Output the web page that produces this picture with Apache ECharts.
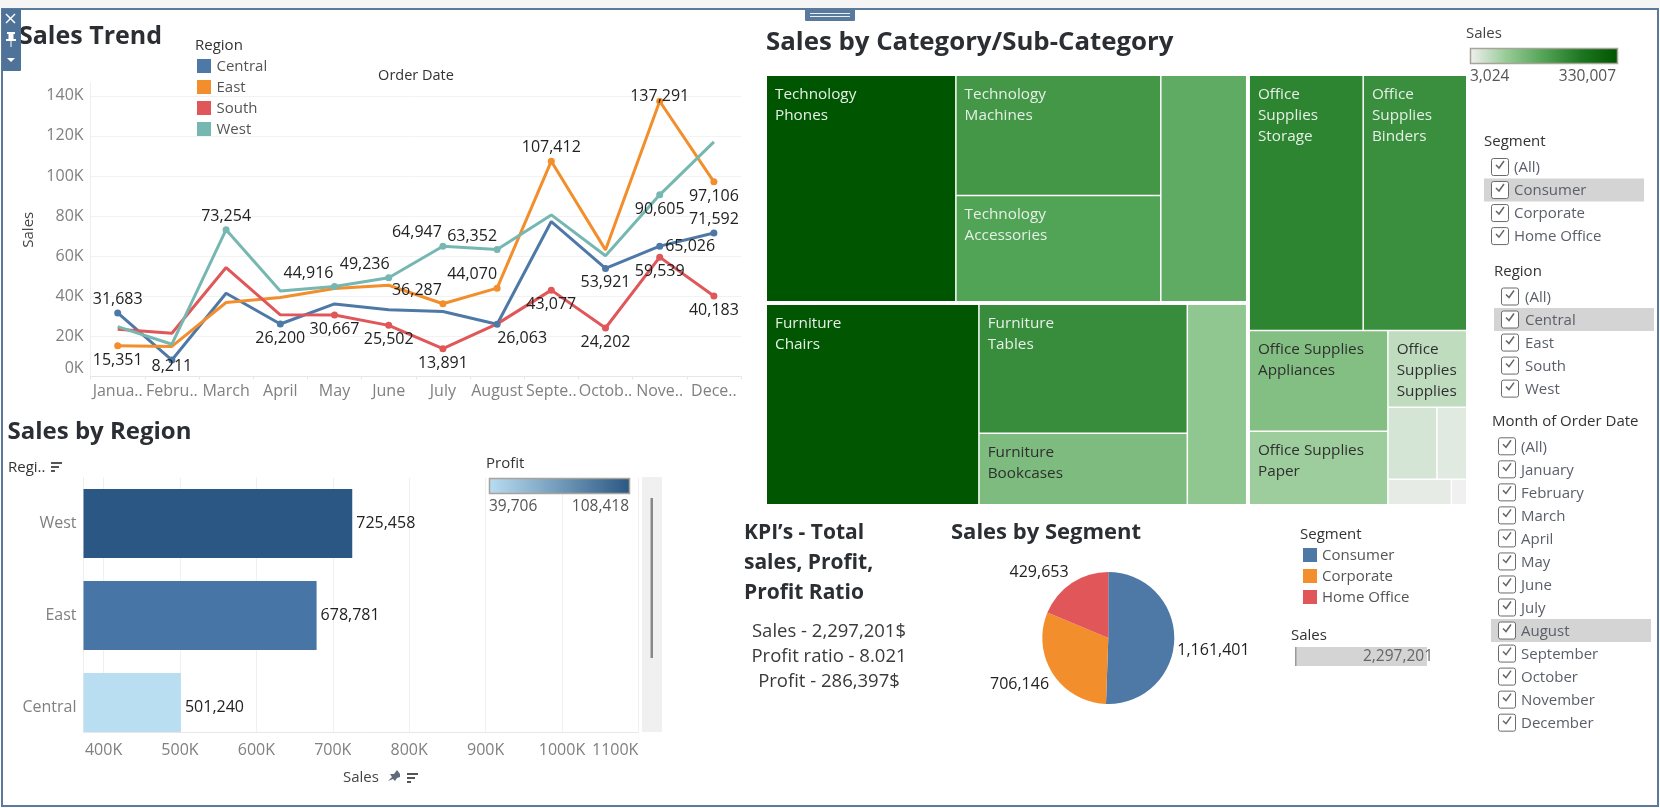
<!DOCTYPE html>
<html><head><meta charset="utf-8">
<style>html,body{margin:0;padding:0;background:#fff}#c{width:1660px;height:808px}</style>
<script src="https://cdn.jsdelivr.net/npm/echarts@6/dist/echarts.min.js"></script>
</head><body><div id="c"></div>
<script>
const months = ['Janua..','Febru..','March','April','May','June','July','August','Septe..','Octob..','Nove..','Dece..'];
const central = [31683,8211,41550,26200,36200,33240,32400,26063,77300,53921,65026,71592];
const east = [15351,15000,36900,39400,43900,45500,36287,44070,107412,63150,137291,97106];
const south = [23600,21600,54350,30750,30667,25502,13891,26260,43077,24202,59539,40183];
const west = [24900,16100,73254,42700,44916,49236,64947,63352,80600,60200,90605,117000];
const regionNames = ['Central','East','West'];
const regionSales = [501240,678781,725458];
const segmentNames = ['Consumer','Corporate','Home Office'];
const segmentSales = [1161401,706146,429653];
const techNames = ['Phones','Machines','Accessories','Copiers'];
const techSales = [330007,189239,167380,149528];
const furnNames = ['Chairs','Tables','Bookcases','Furnishings'];
const furnSales = [328449,206966,114880,91705];
const officeNames = ['Storage','Binders','Appliances','Paper','Supplies','Art','Envelopes','Labels','Fasteners'];
const officeSales = [223844,203413,107532,78479,46674,27119,16476,12486,3024];
const lineTicks = [0,20000,40000,60000,80000,100000,120000,140000];
const barTicks = [400000,500000,600000,700000,800000,900000,1000000,1100000];
const segmentFilter = ['(All)','Consumer','Corporate','Home Office'];
const regionFilter = ['(All)','Central','East','South','West'];
const monthFilter = ['(All)','January','February','March','April','May','June','July','August','September','October','November','December'];

const FONT = '"Open Sans","Noto Sans",sans-serif';
const BLUE='#4e79a7', ORANGE='#f28e2b', RED='#e15759', TEAL='#76b7b2';
const fmt = v => v.toLocaleString('en-US');

// label placement: index -> [position, dx, dy]
const placeCentral = {0:['top',0,0],1:['bottom',0,-8],3:['bottom',0,0],7:['bottom',25,0],9:['bottom',0,0],10:['right',0,0],11:['top',0,0]};
const placeEast = {0:['bottom',0,0],6:['top',-26,0],7:['top',-25,0],8:['top',0,0],10:['top',0,9],11:['bottom',0,0]};
const placeSouth = {4:['bottom',0,0],5:['bottom',0,0],6:['bottom',0,0],8:['bottom',0,0],9:['bottom',0,0],10:['bottom',0,0],11:['bottom',0,0]};
const placeWest = {2:['top',0,0],4:['top',-26,0],5:['top',-24,0],6:['top',-26,0],7:['top',-25,0],10:['bottom',0,0]};
const pieLabelShift = [[-6,11],[5,10],[5,-9]];

function lineSeries(name, vals, color, place){
  return {type:'line', name, xAxisIndex:0, yAxisIndex:0, lineStyle:{width:3,color}, itemStyle:{color},
    symbol:'none', animation:false, z:3,
    data: vals.map((v,i)=>{
      const p = place[i];
      if(!p) return {value:v};
      return {value:v, symbol:'circle', symbolSize:7,
        label:{show:true, position:p[0], distance:p[0]==='bottom'?3:2, offset:[p[1],p[2]], formatter:fmt(v),
               color:'#222', fontFamily:FONT, fontSize:16}};
    })};
}

const g = [];
function T(x,y,text,size,color,weight,align,z){
  g.push({type:'text',x,y:y+1,z:z||20,silent:true,style:{text,fill:color||'#333',
    font:(weight||'normal')+' '+size+'px '+FONT,align:align||'left',verticalAlign:'middle'}});
}
function R(x,y,w,h,fill,z,extra){
  g.push({type:'rect',shape:{x,y,width:w,height:h,r:(extra&&extra.r)||0},z:z||10,silent:true,
    style:Object.assign({fill},extra&&extra.style)});
}
function L(pts,stroke,width,z){
  g.push({type:'polyline',shape:{points:pts},z:z||20,silent:true,style:{stroke,lineWidth:width||1,fill:null}});
}
function sortIcon(x,y){
  R(x,y-5,11,2,'#555',21); R(x,y-1,8,2,'#555',21); R(x,y+3,4,2,'#555',21);
}
function filterList(title,titleX,titleY,boxX,textX,firstY,items,hlIdx,hlX,hlW){
  T(titleX,titleY,title,15,'#333','500');
  items.forEach((it,i)=>{
    const cy = firstY+i*23.03;
    if(i===hlIdx) R(hlX,cy-11.5,hlW,23,'#d4d4d4',11);
    R(boxX+.5,cy-8.5,17,17,'#fff',12,{r:2,style:{stroke:'#6b6b6b',lineWidth:1}});
    L([[boxX+5,cy-2],[boxX+8,cy+1],[boxX+13,cy-6]],'#666',1.5,13);
    T(textX,cy,it,15,'#5a5f68');
  });
}

// window chrome
R(0,0,1660,8,'#f5f5f5',1);
g.push({type:'rect',shape:{x:2,y:9,width:1656,height:797},z:30,silent:true,style:{fill:null,stroke:'#5b7a9b',lineWidth:2}});
R(2,9,19,62,'#4f7299',40,{r:1});
L([[6,14],[15,23]],'#fff',1.5,41); L([[15,14],[6,23]],'#fff',1.5,41);
R(7,32,8,2,'#fff',41); R(8.5,34,5,5,'#fff',41); R(6,39,10,2,'#fff',41); R(10.5,41,1,6,'#fff',41);
g.push({type:'polygon',shape:{points:[[7,58],[15,58],[11,62]]},z:41,silent:true,style:{fill:'#fff'}});
R(805,9,50,12,'#587a9c',40,{r:1}); R(810,13,40,1,'#e8eef4',41); R(810,16,40,1,'#e8eef4',41);

// titles
T(19,36,'Sales Trend',25,'#2b2f33','bold');
T(7.5,431,'Sales by Region',24,'#2b2f33','bold');
T(766,42,'Sales by Category/Sub-Category',25.8,'#2b2f33','bold');
T(744,532,'KPI’s - Total',21,'#2b2f33','bold');
T(744,562,'sales, Profit,',21,'#2b2f33','bold');
T(744,592,'Profit Ratio',21,'#2b2f33','bold');
T(951,532,'Sales by Segment',22,'#2b2f33','bold');
T(829,631,'Sales - 2,297,201$',18.5,'#3a3a3a','normal','center');
T(829,656,'Profit ratio - 8.021',18.5,'#3a3a3a','normal','center');
T(829,681,'Profit - 286,397$',18.5,'#3a3a3a','normal','center');

// line legend
T(195,45,'Region',15,'#333','500');
[['Central',BLUE],['East',ORANGE],['South',RED],['West',TEAL]].forEach((d,i)=>{
  R(197,59+i*21,14,14,d[1],12); T(216.5,66+i*21,d[0],15,'#555');
});
T(416,75,'Order Date',14.5,'#333','500','center');

// bar furniture
T(8,467,'Regi..',15,'#333','500'); sortIcon(51,467);
T(486,463,'Profit',15,'#333','500');
g.push({type:'rect',shape:{x:489.5,y:478.5,width:140,height:15},z:12,silent:true,style:{
  stroke:'#a8a49a',lineWidth:1.5,fill:{type:'linear',x:0,y:0,x2:1,y2:0,colorStops:[{offset:0,color:'#b9ddf1'},{offset:1,color:'#2a5783'}]}}});
T(489,506,'39,706',15.5,'#555'); T(629,506,'108,418',15.5,'#555','normal','right');
R(642,477,20,255,'#f0f0f0',12); R(650.5,498,2.5,160,'#888',13);
R(78,732.5,562,23,'#fff',50);
g.push({type:'polygon',shape:{points:[[388,781],[392,777],[390,774],[394,774],[397,770],[400,774],[400,777],[397,778],[395,781],[393,779]]},z:61,silent:true,style:{fill:'#5f6b7a'}});
sortIcon(407,778);

// treemap legend
T(1466,33,'Sales',15,'#444','500');
g.push({type:'rect',shape:{x:1470.5,y:48.5,width:147,height:15},z:12,silent:true,style:{
  stroke:'#a8a49a',lineWidth:1.5,fill:{type:'linear',x:0,y:0,x2:1,y2:0,colorStops:[
    {offset:0,color:'#f0f0f0'},{offset:.25,color:'#96ca95'},{offset:.5,color:'#52a356'},{offset:.75,color:'#1d7721'},{offset:1,color:'#005500'}]}}});
T(1470,76,'3,024',15.5,'#555'); T(1616,76,'330,007',15.5,'#555','normal','right');

// pie legend
T(1300,534,'Segment',15,'#333','500');
segmentNames.forEach((n,i)=>{ R(1303,548+i*21,14,14,[BLUE,ORANGE,RED][i],12); T(1322,555+i*21,n,15,'#555'); });
T(1291,635,'Sales',15,'#333','500');
R(1295,647,132,19,'#d4d4d4',12); R(1295,647,1.5,19,'#999',13);
T(1433,656,'2,297,201',15.5,'#666','normal','right');

// filters
filterList('Segment',1484,141,1491,1514,167,segmentFilter,1,1484,160);
filterList('Region',1494,271,1501,1525,296.5,regionFilter,1,1494,160);
filterList('Month of Order Date',1492,421,1498,1521,446.3,monthFilter,8,1491,160);

// treemap labels
const lightText = '#e6f0e6', darkText = '#2f2f2f';
const leafLabels = {
  Phones:['Technology\nPhones',lightText], Machines:['Technology\nMachines',lightText], Accessories:['Technology\nAccessories',lightText],
  Chairs:['Furniture\nChairs',lightText], Tables:['Furniture\nTables',lightText], Bookcases:['Furniture\nBookcases',darkText],
  Storage:['Office\nSupplies\nStorage',lightText], Binders:['Office\nSupplies\nBinders',lightText],
  Appliances:['Office Supplies\nAppliances',darkText], Paper:['Office Supplies\nPaper',darkText], Supplies:['Office\nSupplies\nSupplies',darkText]
};
function leaves(names,vals){
  return names.map((n,i)=>{
    const l = leafLabels[n];
    return {name:n,value:vals[i],label:l?{show:true,formatter:l[0],color:l[1]}:{show:false}};
  });
}
const treeData = [
  {name:'Technology',children:leaves(techNames,techSales)},
  {name:'Furniture',children:leaves(furnNames,furnSales)},
  {name:'Office Supplies',children:leaves(officeNames,officeSales)}
];

const axisText = {color:'#808080',fontFamily:FONT,fontSize:16};
const option = {
  animation:false, backgroundColor:'#fff', textStyle:{fontFamily:FONT},
  grid:[
    {left:90.6,top:83,width:650.4,height:293.5},
    {left:83.5,top:477.5,width:554.9,height:276},
    {left:83.5,top:477.5,width:554.9,height:254.5}
  ],
  xAxis:[
    {gridIndex:0,type:'category',data:months,boundaryGap:true,
      axisLine:{lineStyle:{color:'#e6e6e6'}},axisTick:{show:true,length:3,lineStyle:{color:'#e6e6e6'}},
      axisLabel:Object.assign({interval:0,margin:7},axisText),splitLine:{show:false}},
    {gridIndex:1,type:'value',min:373700,max:1100000,
      axisLine:{show:false},axisLabel:{show:false},axisTick:{show:false,customValues:barTicks},
      splitLine:{show:true,lineStyle:{color:'#f0f0f0'}}},
    {gridIndex:2,type:'value',min:373700,max:1100000,z:60,
      name:'Sales',nameLocation:'middle',nameGap:38,nameTextStyle:{color:'#444',fontFamily:FONT,fontSize:15},
      axisLine:{show:true,lineStyle:{color:'#e8e8e8'}},axisTick:{show:false,customValues:barTicks},
      axisLabel:Object.assign({customValues:barTicks,margin:10,alignMaxLabel:'right',formatter:v=>(v/1000)+'K'},axisText),
      splitLine:{show:false}}
  ],
  yAxis:[
    {gridIndex:0,type:'value',min:0,max:146400,
      name:'Sales',nameLocation:'middle',nameRotate:90,nameGap:54,nameTextStyle:{color:'#444',fontFamily:FONT,fontSize:15},
      axisLine:{show:true,lineStyle:{color:'#eeeeee'}},axisTick:{show:false,customValues:lineTicks},
      axisLabel:Object.assign({customValues:lineTicks,margin:7,verticalAlignMinLabel:'bottom',formatter:v=>(v/1000)+'K'},axisText),
      splitLine:{show:true,lineStyle:{color:'#f2f2f2'}}},
    {gridIndex:1,type:'category',data:regionNames,
      axisLine:{show:true,lineStyle:{color:'#eeeeee'}},axisTick:{show:false},
      axisLabel:Object.assign({margin:7},axisText),splitLine:{show:false}},
    {gridIndex:2,type:'value',min:0,max:1,show:false}
  ],
  series:[
    lineSeries('Central',central,BLUE,placeCentral),
    lineSeries('East',east,ORANGE,placeEast),
    lineSeries('South',south,RED,placeSouth),
    lineSeries('West',west,TEAL,placeWest),
    {type:'bar',name:'Sales',xAxisIndex:1,yAxisIndex:1,barWidth:69,z:2,animation:false,
      data:regionSales.map((v,i)=>({value:v,itemStyle:{color:['#b9ddf1','#4775a5','#2a5783'][i]}})),
      label:{show:true,position:'right',distance:4,color:'#222',fontFamily:FONT,fontSize:16,formatter:p=>fmt(p.value)}},
    {type:'pie',name:'Segment',center:[1108.3,638],radius:[0,66],startAngle:90,clockwise:true,animation:false,
      data:segmentNames.map((n,i)=>({name:n,value:segmentSales[i],itemStyle:{color:[BLUE,ORANGE,RED][i]}})),
      label:{show:true,position:'outside',formatter:p=>fmt(p.value),color:'#222',fontFamily:FONT,fontSize:16},
      labelLine:{show:false,length:2,length2:2},avoidLabelOverlap:false,
      labelLayout:p=>({dx:pieLabelShift[p.dataIndex][0],dy:pieLabelShift[p.dataIndex][1]}),
      emphasis:{disabled:true}},
    {type:'treemap',name:'Sales',left:767,top:76,width:699,height:428,roam:false,nodeClick:false,
      breadcrumb:{show:false},animation:false,squareRatio:1.618,visibleMin:0,
      label:{show:true,position:'insideTopLeft',distance:3,fontFamily:FONT,fontSize:15.3,lineHeight:21,overflow:'none'},
      upperLabel:{show:false},
      itemStyle:{borderWidth:0},
      levels:[
        {itemStyle:{gapWidth:4,borderWidth:0}},
        {itemStyle:{gapWidth:1.5,borderWidth:0},colorMappingBy:'value',visualMin:3024,visualMax:330007,
          color:['#f0f0f0','#96ca95','#52a356','#1d7721','#005500']}
      ],
      data:treeData}
  ],
  graphic:{elements:g}
};
const chart = echarts.init(document.getElementById('c'),null,{renderer:'canvas',width:1660,height:808});
chart.setOption(option);
</script></body></html>
